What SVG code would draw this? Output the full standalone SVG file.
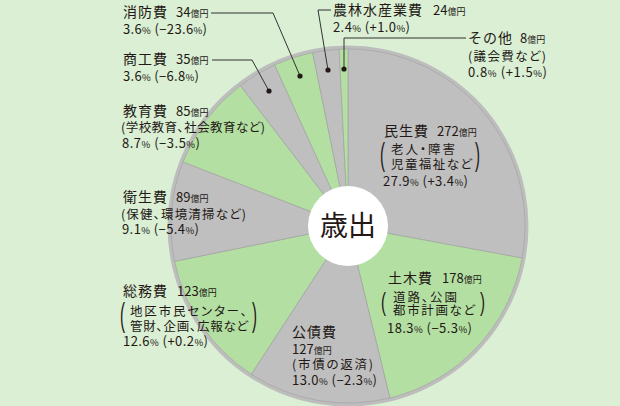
<svg xmlns="http://www.w3.org/2000/svg" width="620" height="406" viewBox="0 0 620 406">
<style>
.t{font-family:"Noto Sans CJK JP","Noto Sans",sans-serif;fill:#231815}
.h{font-size:14px;letter-spacing:1px}
.a{font-size:13px;letter-spacing:0}
.u{font-size:9px;letter-spacing:0}
.s{font-size:12.5px;font-feature-settings:"palt"}
.n{font-size:13px}
.pc{font-size:9.5px}
.p{font-family:"Liberation Sans",sans-serif;font-size:15px;fill:#231815}
.g{fill:#b3e0a2;stroke:#a3a3a3;stroke-width:0.7}
.y{fill:#bfbfbf;stroke:#a3a3a3;stroke-width:0.7}
.ld{fill:none;stroke:#333;stroke-width:1}
.dt{fill:#231815}
</style>
<rect width="620" height="406" fill="#daefd3"/>
<circle cx="348" cy="226" r="180.5" fill="#bdbdbd"/>

<g id="minsei">
<path class="y" d="M348,226 L348,49 A177,177 0 0 1 522.07,258.08 Z"/>
<text class="t h" x="384" y="136">民生費<tspan class="a" x="437">272</tspan><tspan class="u">億円</tspan></text>
<text class="p" transform="translate(380,165.4) scale(1,2.05)">(</text>
<text class="t s" x="391" y="154" textLength="64">老人・障害</text>
<text class="t s" x="391" y="169" textLength="81">児童福祉など</text>
<text class="p" transform="translate(475,165.4) scale(1,2.05)">)</text>
<text class="t n" x="383" y="186" textLength="85">27.9<tspan class="pc">%</tspan> (+3.4<tspan class="pc">%</tspan>)</text>
</g>

<g id="doboku">
<path class="g" d="M348,226 L522.07,258.08 A177,177 0 0 1 389.86,397.98 Z"/>
<text class="t h" x="388" y="283">土木費<tspan class="a" x="442">178</tspan><tspan class="u">億円</tspan></text>
<text class="p" transform="translate(381,311.4) scale(1,1.77)">(</text>
<text class="t s" x="393" y="302" textLength="64">道路、公園</text>
<text class="t s" x="393" y="315" textLength="82">都市計画など</text>
<text class="p" transform="translate(480,311.4) scale(1,1.77)">)</text>
<text class="t n" x="387" y="333" textLength="85">18.3<tspan class="pc">%</tspan> (−5.3<tspan class="pc">%</tspan>)</text>
</g>

<g id="kousai">
<path class="y" d="M348,226 L389.86,397.98 A177,177 0 0 1 251.29,374.24 Z"/>
<text class="t h" x="292" y="337">公債費</text>
<text class="t a" x="292" y="354">127<tspan class="u">億円</tspan></text>
<text class="t s" x="292" y="369" textLength="81">(市債の返済)</text>
<text class="t n" x="292" y="385" textLength="85">13.0<tspan class="pc">%</tspan> (−2.3<tspan class="pc">%</tspan>)</text>
</g>

<g id="soumu">
<path class="g" d="M348,226 L251.29,374.24 A177,177 0 0 1 174.56,261.35 Z"/>
<text class="t h" x="123" y="296">総務費<tspan class="a" x="177">123</tspan><tspan class="u">億円</tspan></text>
<text class="p" transform="translate(120,326) scale(1,2.2)">(</text>
<text class="t s" x="130" y="316" textLength="117">地区市民センター、</text>
<text class="t s" x="130" y="331" textLength="118">管財、企画、広報など</text>
<text class="p" transform="translate(252,326) scale(1,2.2)">)</text>
<text class="t n" x="123" y="346" textLength="85">12.6<tspan class="pc">%</tspan> (+0.2<tspan class="pc">%</tspan>)</text>
</g>

<g id="eisei">
<path class="y" d="M348,226 L174.56,261.35 A177,177 0 0 1 183.02,161.88 Z"/>
<text class="t h" x="123" y="202">衛生費<tspan class="a" x="176">89</tspan><tspan class="u">億円</tspan></text>
<text class="t s" x="121" y="219" textLength="125">(保健、環境清掃など)</text>
<text class="t n" x="122" y="234" textLength="77">9.1<tspan class="pc">%</tspan> (−5.4<tspan class="pc">%</tspan>)</text>
</g>

<g id="kyouiku">
<path class="g" d="M348,226 L183.02,161.88 A177,177 0 0 1 240.38,85.48 Z"/>
<text class="t h" x="123" y="116">教育費<tspan class="a" x="176">85</tspan><tspan class="u">億円</tspan></text>
<text class="t s" x="121" y="132" textLength="144">(学校教育、社会教育など)</text>
<text class="t n" x="122" y="148" textLength="78">8.7<tspan class="pc">%</tspan> (−3.5<tspan class="pc">%</tspan>)</text>
</g>

<g id="shoukou">
<path class="y" d="M348,226 L240.38,85.48 A177,177 0 0 1 274.66,64.91 Z"/>
<text class="t h" x="123" y="64">商工費<tspan class="a" x="176">35</tspan><tspan class="u">億円</tspan></text>
<text class="t n" x="123" y="81" textLength="76">3.6<tspan class="pc">%</tspan> (−6.8<tspan class="pc">%</tspan>)</text>
</g>

<g id="shoubou">
<path class="g" d="M348,226 L274.66,64.91 A177,177 0 0 1 312.65,52.56 Z"/>
<text class="t h" x="123" y="17">消防費<tspan class="a" x="176">34</tspan><tspan class="u">億円</tspan></text>
<text class="t n" x="123" y="34" textLength="84">3.6<tspan class="pc">%</tspan> (−23.6<tspan class="pc">%</tspan>)</text>
</g>

<g id="nourin">
<path class="y" d="M348,226 L312.65,52.56 A177,177 0 0 1 339.11,49.22 Z"/>
<text class="t h" x="333" y="15">農林水産業費<tspan class="a" x="433">24</tspan><tspan class="u">億円</tspan></text>
<text class="t n" x="333" y="32" textLength="77">2.4<tspan class="pc">%</tspan> (+1.0<tspan class="pc">%</tspan>)</text>
</g>

<g id="sonota">
<path class="g" d="M348,226 L339.11,49.22 A177,177 0 0 1 348,49 Z"/>
<text class="t h" x="468" y="43">その他<tspan class="a" x="520">8</tspan><tspan class="u">億円</tspan></text>
<text class="t s" x="468" y="61" textLength="78">(議会費など)</text>
<text class="t n" x="468" y="77" textLength="79">0.8<tspan class="pc">%</tspan> (+1.5<tspan class="pc">%</tspan>)</text>
</g>

<g id="center">
<circle cx="348" cy="226" r="40" fill="#ffffff"/>
<text class="t" x="348" y="236" font-size="28" text-anchor="middle">歳出</text>
</g>

<g id="connectors">
<polyline class="ld" points="211,13 273,13 300,76"/>
<circle class="dt" cx="300" cy="76" r="2.6"/>
<polyline class="ld" points="212,60 252,60 269,91"/>
<circle class="dt" cx="269" cy="91" r="2.6"/>
<polyline class="ld" points="331,10 318,10 328,70"/>
<circle class="dt" cx="328" cy="70" r="2.6"/>
<polyline class="ld" points="466,38 344,38 344,69"/>
<circle class="dt" cx="344" cy="69" r="2.6"/>
</g>
</svg>
